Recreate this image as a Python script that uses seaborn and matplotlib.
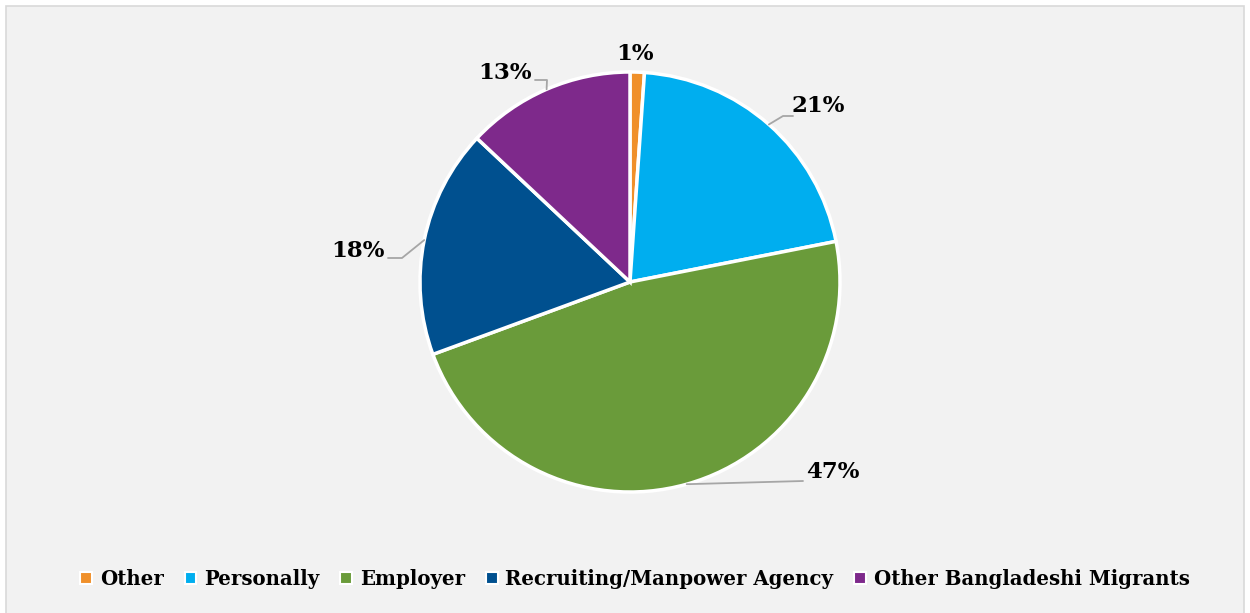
import matplotlib
matplotlib.use("Agg")
import matplotlib.pyplot as plt
import seaborn as sns
from matplotlib.patches import Rectangle, Patch
import numpy as np

# ---- data ----
categories = ["Other", "Personally", "Employer", "Recruiting/Manpower Agency", "Other Bangladeshi Migrants"]
values = [1.1, 20.8, 47.5, 17.6, 13.0]
labels = ["1%", "21%", "47%", "18%", "13%"]
colors = ["#F0902A", "#00AEEF", "#6A9B3A", "#00508F", "#7E298B"]

sns.set_theme(style="white")
plt.rcParams['font.family'] = ['DejaVu Serif']

W, H = 1250, 613
fig = plt.figure(figsize=(W / 100, H / 100), dpi=100)
fig.patch.set_facecolor("white")
# chart area
fig.patches.append(Rectangle((6 / W, -0.01), (W - 12) / W, (H - 6) / H + 0.01, transform=fig.transFigure,
                             facecolor="#F2F2F2", edgecolor="#D9D9D9", linewidth=1.2, zorder=-10))

ax = fig.add_axes([0, 0, 1, 1])
ax.set_facecolor("none")
ax.set_zorder(1)
R = 210.0
cx, cy = 630.0, 282.0
wedges, _ = ax.pie(values, colors=colors, startangle=90, counterclock=False, radius=1,
                   wedgeprops=dict(edgecolor="white", linewidth=2.5))
ax.set_xlim(-cx / R, (W - cx) / R)
ax.set_ylim(-(H - cy) / R, cy / R)
ax.set_aspect('auto')
ax.axis('off')

# label layout (pixel-space offsets converted to data units)
def px(x, y):
    return ((x - cx) / R, (cy - y) / R)

label_pos = [px(635, 54), px(818, 106), px(833, 472), px(358, 251), px(505, 73)]
leader_pts = [None,
              [px(783, 116), px(793, 116)],
              [px(803, 481)],
              [px(402, 258), px(388, 258)],
              [px(547, 80), px(535, 80)]]

cum = np.cumsum([0] + values[:-1])
for i, (lab, pos) in enumerate(zip(labels, label_pos)):
    ax.text(pos[0], pos[1], lab, ha="center", va="center", fontsize=16.5, fontweight="bold", color="black")
    if leader_pts[i] is not None:
        mid = (cum[i] + values[i] / 2) / 100 * 2 * np.pi
        ex, ey = np.sin(mid), np.cos(mid)
        xs = [ex] + [p[0] for p in leader_pts[i]]
        ys = [ey] + [p[1] for p in leader_pts[i]]
        ax.plot(xs, ys, color="#A6A6A6", linewidth=1.3, zorder=1)

handles = [Patch(facecolor=c, edgecolor="white", linewidth=1.5) for c in colors]
leg = fig.legend(handles, categories, loc="center", bbox_to_anchor=(635 / W, 1 - 579 / H), ncol=5,
                 frameon=False, prop=dict(size=14.2, weight="bold"), handlelength=0.6, handleheight=0.6,
                 handletextpad=0.4, columnspacing=1.05, labelcolor="black")

fig.savefig("out.png", dpi=100, facecolor="white")
